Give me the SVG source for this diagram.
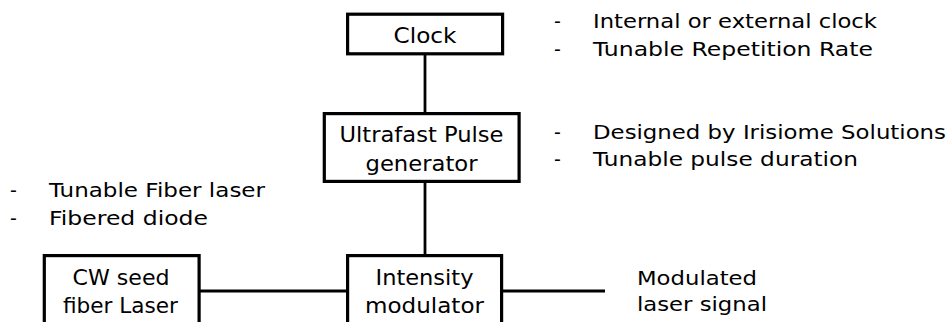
<svg xmlns="http://www.w3.org/2000/svg" width="951" height="322" viewBox="0 0 951 322">
<style>
.box{fill:#fff;stroke:#000;stroke-width:3.2}
.conn{stroke:#000;stroke-width:2.8;fill:none}
.lbl{font-family:"DejaVu Sans","Liberation Sans",sans-serif;font-size:22px;fill:#000;text-anchor:middle}
.note{font-family:"DejaVu Sans","Liberation Sans",sans-serif;font-size:19px;fill:#000}
</style>
<rect width="951" height="322" fill="#fff"/>
<g id="connectors">
<line class="conn" x1="425" y1="55" x2="425" y2="113"/>
<line class="conn" x1="425" y1="182" x2="425" y2="255"/>
<line class="conn" x1="200" y1="291" x2="347" y2="291"/>
<line class="conn" x1="502" y1="291" x2="605" y2="291"/>
</g>
<g id="clock">
<rect class="box" x="347.6" y="14.2" width="155" height="39.6"/>
<text class="lbl" x="425" y="43.3" textLength="63" lengthAdjust="spacingAndGlyphs">Clock</text>
</g>
<g id="pulse-generator">
<rect class="box" x="324.3" y="113.6" width="194.8" height="67.8"/>
<text class="lbl" x="421.5" y="141.6" textLength="164" lengthAdjust="spacingAndGlyphs">Ultrafast Pulse</text>
<text class="lbl" x="421.5" y="170.5" textLength="112" lengthAdjust="spacingAndGlyphs">generator</text>
</g>
<g id="intensity-modulator">
<rect class="box" x="347.6" y="255.6" width="154" height="100"/>
<text class="lbl" x="424.5" y="285" textLength="98" lengthAdjust="spacingAndGlyphs">Intensity</text>
<text class="lbl" x="424.5" y="312.5" textLength="119" lengthAdjust="spacingAndGlyphs">modulator</text>
</g>
<g id="cw-laser">
<rect class="box" x="44.3" y="255.6" width="154.8" height="100"/>
<text class="lbl" x="121" y="285" textLength="97" lengthAdjust="spacingAndGlyphs">CW seed</text>
<text class="lbl" x="120.5" y="312.5" textLength="115" lengthAdjust="spacingAndGlyphs">fiber Laser</text>
</g>
<g id="clock-notes">
<text class="note" x="554" y="28">-</text>
<text class="note" x="593" y="28" textLength="284" lengthAdjust="spacingAndGlyphs">Internal or external clock</text>
<text class="note" x="554" y="56">-</text>
<text class="note" x="593" y="56" textLength="280" lengthAdjust="spacingAndGlyphs">Tunable Repetition Rate</text>
</g>
<g id="pulse-notes">
<text class="note" x="554" y="138.5">-</text>
<text class="note" x="593" y="138.5" textLength="353" lengthAdjust="spacingAndGlyphs">Designed by Irisiome Solutions</text>
<text class="note" x="554" y="166">-</text>
<text class="note" x="593" y="166" textLength="265" lengthAdjust="spacingAndGlyphs">Tunable pulse duration</text>
</g>
<g id="laser-notes">
<text class="note" x="10" y="197">-</text>
<text class="note" x="49" y="197" textLength="216" lengthAdjust="spacingAndGlyphs">Tunable Fiber laser</text>
<text class="note" x="10" y="224.5">-</text>
<text class="note" x="49" y="224.5" textLength="159" lengthAdjust="spacingAndGlyphs">Fibered diode</text>
</g>
<g id="output">
<text class="note" x="637" y="284.5" textLength="120" lengthAdjust="spacingAndGlyphs">Modulated</text>
<text class="note" x="637" y="311" textLength="130" lengthAdjust="spacingAndGlyphs">laser signal</text>
</g>
</svg>
